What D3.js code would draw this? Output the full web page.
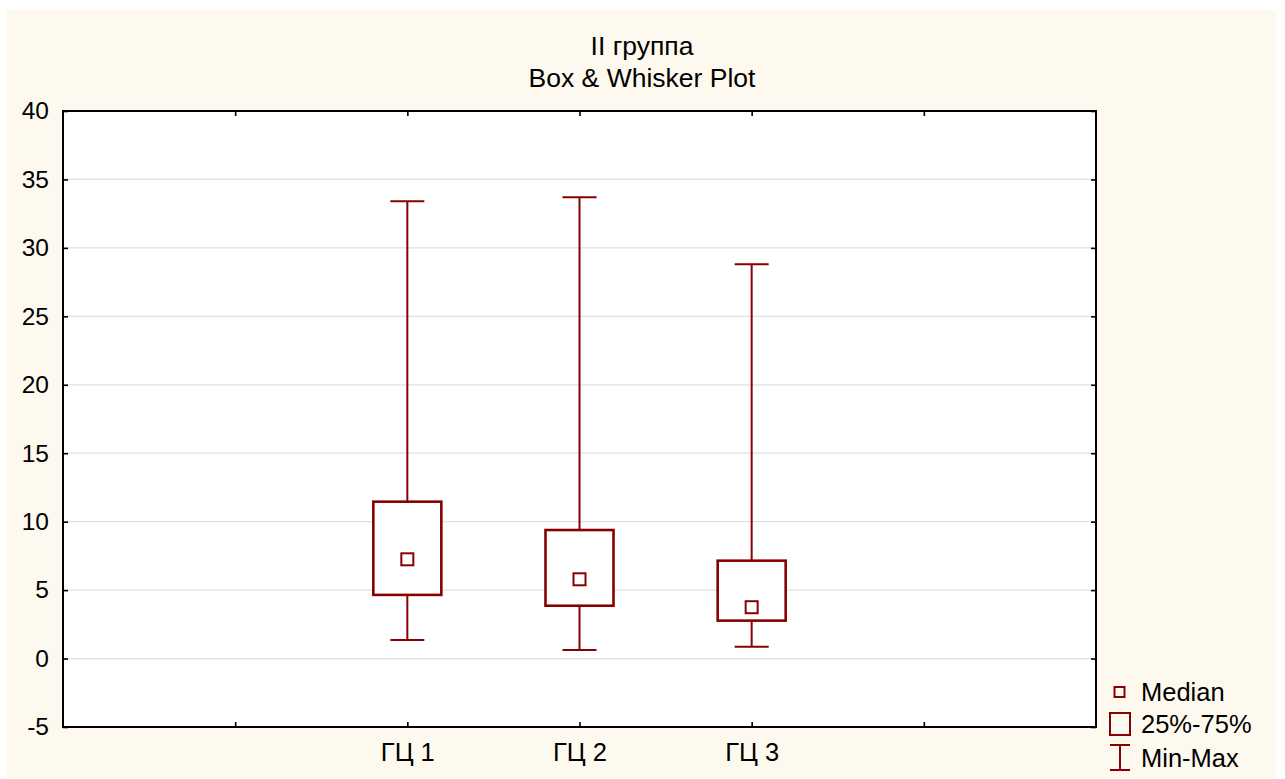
<!DOCTYPE html>
<html>
<head>
<meta charset="utf-8">
<script src="https://cdn.jsdelivr.net/npm/d3@7"></script>
<style>
  html, body { margin: 0; padding: 0; background: #ffffff; }
  svg { display: block; font-family: "Liberation Sans", Arial, sans-serif; }
</style>
</head>
<body>
<svg id="chart" width="1285" height="779"></svg>
<script>
// Group labels and their five-number summaries
const categories = ["ГЦ 1", "ГЦ 2", "ГЦ 3"];
const minValues    = [1.36, 0.63, 0.87];
const q1Values     = [4.65, 3.86, 2.77];
const medianValues = [7.25, 5.79, 3.75];
const q3Values     = [11.46, 9.39, 7.15];
const maxValues    = [33.4, 33.7, 28.8];

const yTicks = [-5, 0, 5, 10, 15, 20, 25, 30, 35, 40];
const titleLines = ["II группа", "Box & Whisker Plot"];
const legendLabels = ["Median", "25%-75%", "Min-Max"];

const plot = { left: 63, right: 1096, top: 111, bottom: 727 };
const ink = "#880000";

const svg = d3.select("#chart");

// page background panel
svg.append("rect")
  .attr("x", 7).attr("y", 10).attr("width", 1269).attr("height", 768)
  .attr("fill", "#fef9ef");

// plot area
svg.append("rect")
  .attr("x", plot.left).attr("y", plot.top)
  .attr("width", plot.right - plot.left).attr("height", plot.bottom - plot.top)
  .attr("fill", "#ffffff");

// x: two empty slots on each side of the groups
const x = d3.scaleLinear()
  .domain([-2, categories.length + 1])
  .range([plot.left, plot.right]);
const y = d3.scaleLinear()
  .domain([d3.min(yTicks), d3.max(yTicks)])
  .range([plot.bottom, plot.top]);

const xTickVals = d3.range(-1, categories.length + 1);
const band = x(1) - x(0);

// horizontal grid
svg.append("g")
  .selectAll("line")
  .data(yTicks.filter(t => t > y.domain()[0] && t < y.domain()[1]))
  .join("line")
  .attr("x1", plot.left).attr("x2", plot.right)
  .attr("y1", d => y(d)).attr("y2", d => y(d))
  .attr("stroke", "#e0e0e0").attr("stroke-width", 1.2);

// axes with inward ticks
const tickLen = 5;
const axisLeft = d3.axisLeft(y).tickValues(yTicks).tickSize(-tickLen).tickPadding(14).tickFormat(d => String(d));
const axisRight = d3.axisRight(y).tickValues(yTicks).tickSize(-tickLen).tickFormat("");
const axisBottom = d3.axisBottom(x).tickValues(xTickVals).tickSize(-tickLen).tickPadding(16)
  .tickFormat(d => categories[d] !== undefined ? categories[d] : "");
const axisTop = d3.axisTop(x).tickValues(xTickVals).tickSize(-tickLen).tickFormat("");

function styleAxis(g, size) {
  g.select(".domain").remove();
  g.selectAll(".tick line").attr("stroke", "#000").attr("stroke-width", 1.6);
  g.selectAll(".tick text").attr("fill", "#000").attr("font-size", size)
    .attr("font-family", "'Liberation Sans', Arial, sans-serif");
}

svg.append("g").attr("transform", `translate(${plot.left},0)`).call(axisLeft).call(styleAxis, 24.5);
svg.append("g").attr("transform", `translate(${plot.right},0)`).call(axisRight).call(styleAxis, 24);
svg.append("g").attr("transform", `translate(0,${plot.bottom})`).call(axisBottom).call(styleAxis, 25.5);
svg.append("g").attr("transform", `translate(0,${plot.top})`).call(axisTop).call(styleAxis, 24);

// frame
svg.append("rect")
  .attr("x", plot.left).attr("y", plot.top)
  .attr("width", plot.right - plot.left).attr("height", plot.bottom - plot.top)
  .attr("fill", "none").attr("stroke", "#000").attr("stroke-width", 2);

// boxes
const boxW = band * 0.395;
const capW = boxW / 2;
const medS = 12;

const groups = svg.append("g").selectAll("g")
  .data(categories.map((c, i) => ({
    i, min: minValues[i], q1: q1Values[i], med: medianValues[i], q3: q3Values[i], max: maxValues[i]
  })))
  .join("g");

// whiskers
groups.append("line")
  .attr("x1", d => x(d.i)).attr("x2", d => x(d.i))
  .attr("y1", d => y(d.max)).attr("y2", d => y(d.min))
  .attr("stroke", ink).attr("stroke-width", 2);
groups.append("line")
  .attr("x1", d => x(d.i) - capW / 2).attr("x2", d => x(d.i) + capW / 2)
  .attr("y1", d => y(d.max)).attr("y2", d => y(d.max))
  .attr("stroke", ink).attr("stroke-width", 2);
groups.append("line")
  .attr("x1", d => x(d.i) - capW / 2).attr("x2", d => x(d.i) + capW / 2)
  .attr("y1", d => y(d.min)).attr("y2", d => y(d.min))
  .attr("stroke", ink).attr("stroke-width", 2);

// interquartile box
groups.append("rect")
  .attr("x", d => x(d.i) - boxW / 2)
  .attr("y", d => y(d.q3))
  .attr("width", boxW)
  .attr("height", d => y(d.q1) - y(d.q3))
  .attr("fill", "#ffffff").attr("stroke", ink).attr("stroke-width", 2.6);

// median marker
groups.append("rect")
  .attr("x", d => x(d.i) - medS / 2)
  .attr("y", d => y(d.med) - medS / 2)
  .attr("width", medS).attr("height", medS)
  .attr("fill", "#ffffff").attr("stroke", ink).attr("stroke-width", 2);

// titles
svg.append("g").selectAll("text")
  .data(titleLines)
  .join("text")
  .attr("x", 642)
  .attr("y", (d, i) => 55 + i * 32)
  .attr("text-anchor", "middle")
  .attr("font-size", 26.5)
  .attr("fill", "#000")
  .text(d => d);

// legend
const lg = svg.append("g");
const lx = 1120;
const lTextX = 1141;
const lBase = [701, 733, 767];

lg.append("rect")
  .attr("x", lx - 5.5).attr("y", lBase[0] - 14).attr("width", 10).attr("height", 10)
  .attr("fill", "none").attr("stroke", ink).attr("stroke-width", 2);
lg.append("rect")
  .attr("x", lx - 10).attr("y", lBase[1] - 20).attr("width", 20).attr("height", 22)
  .attr("fill", "none").attr("stroke", ink).attr("stroke-width", 2);
lg.append("line")
  .attr("x1", lx).attr("x2", lx).attr("y1", lBase[2] - 22).attr("y2", lBase[2] + 3)
  .attr("stroke", ink).attr("stroke-width", 2);
lg.append("line")
  .attr("x1", lx - 10).attr("x2", lx + 10).attr("y1", lBase[2] - 22).attr("y2", lBase[2] - 22)
  .attr("stroke", ink).attr("stroke-width", 2);
lg.append("line")
  .attr("x1", lx - 10).attr("x2", lx + 10).attr("y1", lBase[2] + 3).attr("y2", lBase[2] + 3)
  .attr("stroke", ink).attr("stroke-width", 2);

lg.selectAll("text")
  .data(legendLabels)
  .join("text")
  .attr("x", lTextX)
  .attr("y", (d, i) => lBase[i])
  .attr("font-size", 25.5)
  .attr("fill", "#000")
  .text(d => d);
</script>
</body>
</html>
